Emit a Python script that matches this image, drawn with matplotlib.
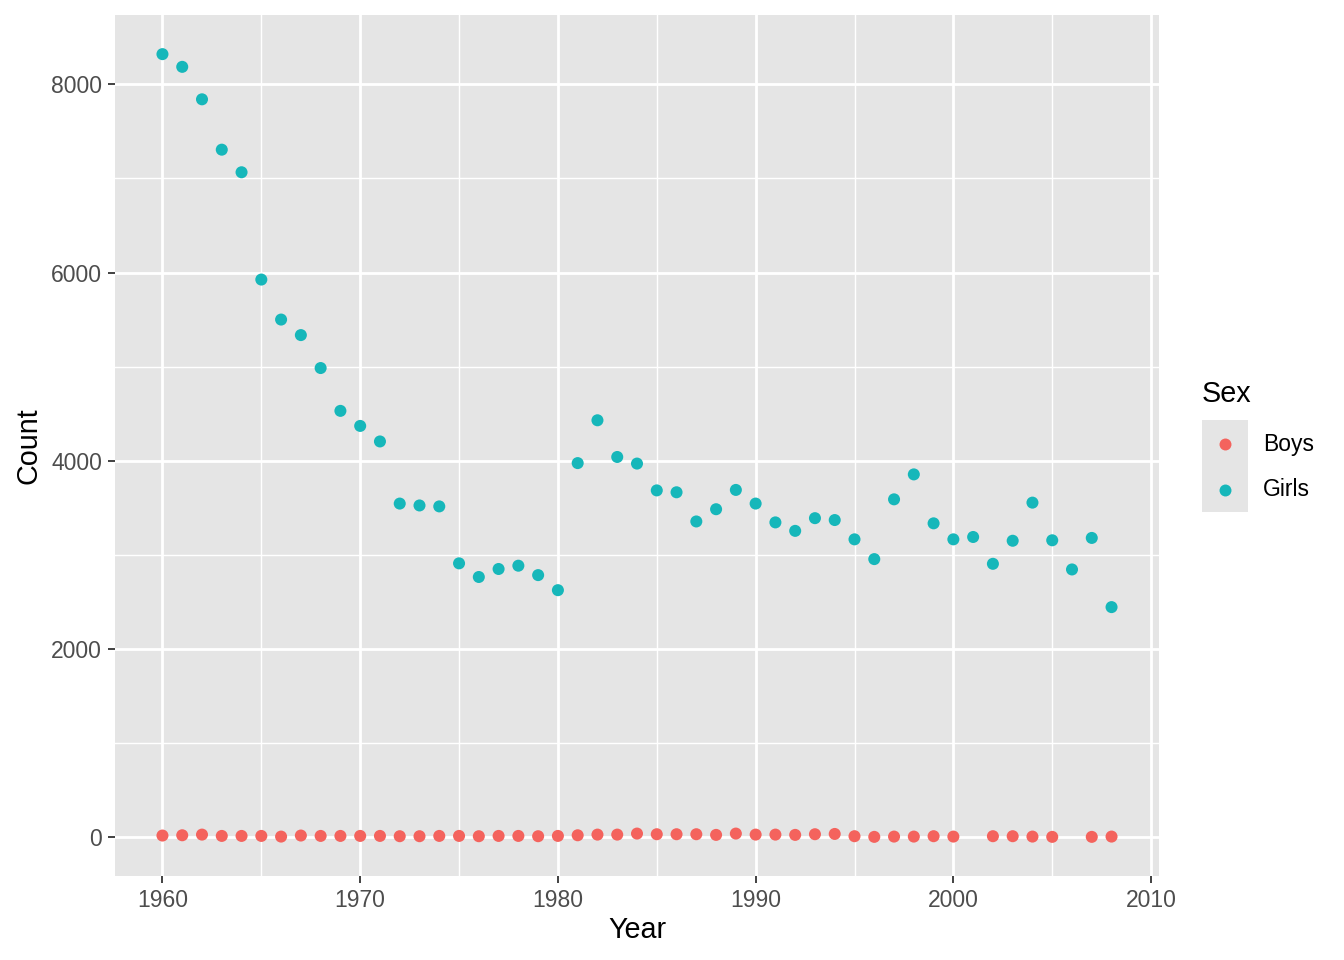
import matplotlib.pyplot as plt
import numpy as np
from matplotlib.lines import Line2D
from matplotlib.patches import Rectangle
from matplotlib.ticker import MultipleLocator

plt.rcParams['font.family'] = ['Liberation Sans', 'DejaVu Sans']

# data
years = np.arange(1960, 2009)
girls = [8320, 8185, 7840, 7305, 7065, 5925, 5500, 5335, 4985, 4530,
         4370, 4205, 3545, 3525, 3515, 2910, 2765, 2850, 2885, 2785,
         2625, 3975, 4430, 4040, 3970, 3685, 3665, 3355, 3485, 3690,
         3545, 3345, 3255, 3390, 3370, 3165, 2955, 3590, 3855, 3335,
         3165, 3190, 2905, 3150, 3555, 3155, 2845, 3180, 2445]
boys_years = [y for y in range(1960, 2009) if y not in (2001, 2006)]
boys = [18, 21, 28, 14, 14, 14, 7, 18, 14, 14,
        14, 14, 11, 11, 14, 14, 11, 14, 14, 11,
        14, 21, 28, 28, 39, 32, 32, 32, 25, 39,
        28, 28, 25, 32, 35, 11, 4, 7, 7, 11,
        7, 11, 11, 7, 4, 4, 7]

c_boys = '#F4635D'
c_girls = '#16B7BA'

W, H = 1344, 960
fig = plt.figure(figsize=(W / 100, H / 100), dpi=100)
ax = fig.add_axes([115 / W, 84 / H, (1159 - 115) / W, (876 - 15) / H])

ax.scatter(boys_years, boys, s=75, color=c_boys, edgecolors='none', zorder=3)
ax.scatter(years, girls, s=75, color=c_girls, edgecolors='none', zorder=3)

ax.set_facecolor('#E5E5E5')
ax.margins(x=0.05, y=0.05)
ax.xaxis.set_major_locator(MultipleLocator(10))
ax.xaxis.set_minor_locator(MultipleLocator(5))
ax.yaxis.set_major_locator(MultipleLocator(2000))
ax.yaxis.set_minor_locator(MultipleLocator(1000))
ax.grid(which='major', color='white', linewidth=2.0)
ax.grid(which='minor', color='white', linewidth=1.0)
ax.set_axisbelow(True)
for s in ax.spines.values():
    s.set_visible(False)
ax.tick_params(which='major', length=5.2, width=1.3, color='#333333',
               labelsize=16.5, labelcolor='#4D4D4D', pad=4.1)
ax.tick_params(which='minor', length=0)

fig.text(637 / W, 1 - 930 / H, 'Year', fontsize=20.7, ha='center', va='center')
fig.text(28 / W, 1 - 446 / H, 'Count', fontsize=20.7, ha='center',
         va='center', rotation=90)

# legend
fig.patches.append(Rectangle((1202 / W, 1 - 512 / H), 46 / W, 92 / H,
                             transform=fig.transFigure, facecolor='#E5E5E5',
                             edgecolor='none'))
fig.text(1202 / W, 1 - 394 / H, 'Sex', fontsize=20.7, va='center', ha='left')
for lab, col, yp in [('Boys', c_boys, 444), ('Girls', c_girls, 490)]:
    fig.add_artist(Line2D([1225 / W], [1 - yp / H], marker='o', markersize=8.6,
                          color=col, markeredgewidth=0, linestyle='none',
                          transform=fig.transFigure))
    fig.text(1263 / W, 1 - yp / H, lab, fontsize=16.5, va='center', ha='left')

fig.savefig('out.png', dpi=100)
